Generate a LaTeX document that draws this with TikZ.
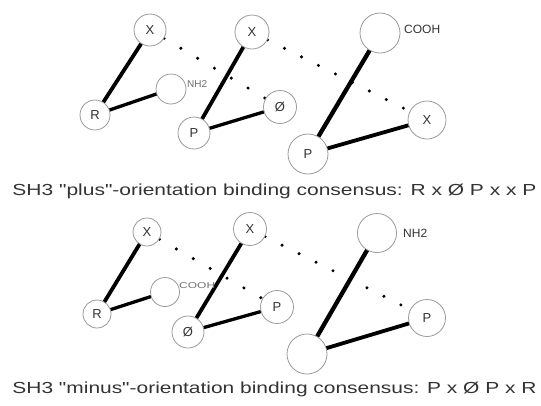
\documentclass[tikz,border=0pt]{standalone}
\usepackage{fontspec}
\setmainfont{Liberation Sans}[Ligatures=TeXOff]
\usepackage{graphicx}
\usetikzlibrary{backgrounds}
\definecolor{ringgray}{HTML}{9A9A9A}
\definecolor{textgray}{HTML}{333333}
\definecolor{smallgray}{HTML}{707070}
\tikzset{
  res/.style={circle, draw=ringgray, line width=0.8pt, fill=white, inner sep=0pt,
              minimum size=#1, font=\fontsize{13}{13}\selectfont, text=textgray},
  bond/.style={line width=#1, line cap=round, black},
  hbond/.style={line width=3.4pt, line cap=round, dash pattern=on 0pt off #1, black},
  tag/.style={font=\fontsize{10}{10}\selectfont, text=smallgray, inner sep=0pt, anchor=west},
  caption/.style={font=\fontsize{16}{16}\selectfont, text=textgray, inner sep=0pt}
}
\begin{document}
\begin{tikzpicture}[x=1pt,y=-1pt]
\useasboundingbox (0,0) rectangle (541,405);
% ---- upper half ----
\node[res=32pt] (x1) at (150,30) {X};
\node[res=30pt] (r1) at (95,115) {R};
\node[res=30pt] (n1) at (171,89) {};
\node[tag] (n1t) at (187,84) {NH2};
\node[res=34pt] (x2) at (252,32) {X};
\node[res=32pt] (p2) at (194,133) {P};
\node[res=33pt] (o2) at (280,107) {Ø};
\node[res=40pt] (c3) at (380,33) {};
\node[tag, font=\fontsize{12}{12}\selectfont, text=textgray] (c3t) at (404,29) {COOH};
\node[res=40pt] (p3) at (308,154) {P};
\node[res=38pt] (x3) at (427,120) {X};
\node[caption] (cap1) at (274.5,191) {\resizebox{524pt}{\height}{SH3 "plus"-orientation binding consensus: R x Ø P x x P}};
% ---- lower half ----
\node[res=28pt] (x4) at (147,232) {X};
\node[res=28pt] (r4) at (97,314) {R};
\node[res=29pt] (c4) at (165,292) {};
\node[tag, font=\fontsize{8.5}{8.5}\selectfont] (c4t) at (179,286) {\resizebox{36pt}{\height}{COOH}};
\node[res=33pt] (x5) at (250,229) {X};
\node[res=32pt] (o5) at (188,332) {Ø};
\node[res=33pt] (p5) at (277,307) {P};
\node[res=39pt] (n6) at (377,233) {};
\node[tag, font=\fontsize{12}{12}\selectfont, text=textgray] (n6t) at (403,233) {NH2};
\node[res=40pt] (b6) at (307,354) {};
\node[res=37pt] (p6) at (427,318) {P};
\node[caption] (cap2) at (274.5,389) {\resizebox{524pt}{\height}{SH3 "minus"-orientation binding consensus: P x Ø P x R}};
\begin{scope}[on background layer]
  \draw[hbond=19.5pt] (x1) -- (o2);
  \draw[hbond=19pt] (x2) -- (x3);
  \draw[hbond=19.5pt] (x4) -- (p5);
  \draw[hbond=19pt] (x5) -- (p6);
  \draw[bond=3.8pt] (x1) -- (r1);
  \draw[bond=3.3pt] (r1) -- (n1);
  \draw[bond=3.8pt] (x2) -- (p2);
  \draw[bond=3.3pt] (p2) -- (o2);
  \draw[bond=4.3pt] (c3) -- (p3);
  \draw[bond=3.8pt] (p3) -- (x3);
  \draw[bond=3.8pt] (x4) -- (r4);
  \draw[bond=3.3pt] (r4) -- (c4);
  \draw[bond=3.8pt] (x5) -- (o5);
  \draw[bond=3.3pt] (o5) -- (p5);
  \draw[bond=4.3pt] (n6) -- (b6);
  \draw[bond=3.8pt] (b6) -- (p6);
\end{scope}
\end{tikzpicture}
\end{document}
